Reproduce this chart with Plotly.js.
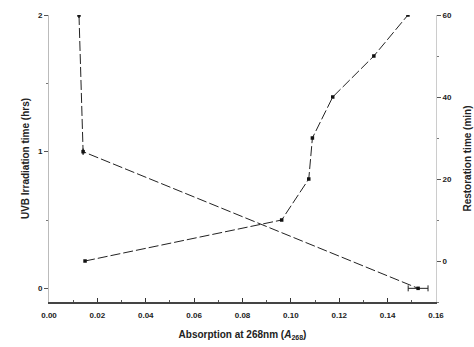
<!DOCTYPE html>
<html>
<head>
<meta charset="utf-8">
<script src="https://cdn.plot.ly/plotly-3.0.1.min.js"></script>
<style>html,body{margin:0;padding:0;background:#fff;}#chart{width:474px;height:347px;}</style>
</head>
<body>
<div id="chart"></div>
<script>
// Series 1: UVB irradiation time (hrs) vs absorption
const uvbAbs = [0.0124, 0.0141, 0.1526];
const uvbHrs = [2, 1, 0];
const uvbErr = [0, 0, 0.0041];
// Series 2: time (min) vs absorption
const timeAbs = [0.0149, 0.0962, 0.1074, 0.1089, 0.1173, 0.1343, 0.1484];
const timeMin = [0, 10, 20, 30, 40, 50, 60];

const xTicks = [0, 0.02, 0.04, 0.06, 0.08, 0.10, 0.12, 0.14, 0.16];
const xTickText = ['0.00','0.02','0.04','0.06','0.08','0.10','0.12','0.14','0.16'];
const y1Ticks = [0, 1, 2];
const y2Ticks = [0, 20, 40, 60];

const font = {family: 'Liberation Sans, Arial, sans-serif', size: 8, color: '#222', weight: 'bold'};
const titleFont = {family: 'Liberation Sans, Arial, sans-serif', size: 10, color: '#222', weight: 'bold'};

const traces = [
  {
    x: uvbAbs, y: uvbHrs, type: 'scatter', mode: 'lines+markers',
    line: {color: '#222', width: 1, dash: '10px,3px'},
    marker: {symbol: 'square', size: 3.5, color: '#111'},
    error_x: {type: 'data', array: uvbErr, visible: true, color: '#222', thickness: 1, width: 3},
    yaxis: 'y', showlegend: false
  },
  {
    x: timeAbs, y: timeMin, type: 'scatter', mode: 'lines+markers',
    line: {color: '#222', width: 1, dash: '10px,3px'},
    marker: {symbol: 'square', size: 3.5, color: '#111'},
    yaxis: 'y2', showlegend: false
  }
];

const layout = {
  width: 474, height: 347,
  margin: {l: 49, r: 38, t: 15, b: 45},
  paper_bgcolor: '#fff', plot_bgcolor: '#fff',
  font: font,
  xaxis: {
    range: [0, 0.16], tickvals: xTicks, ticktext: xTickText, color: '#222',
    ticks: 'inside', ticklen: 4, tickcolor: '#333', tickwidth: 1,
    minor: {dtick: 0.01, ticks: 'inside', ticklen: 2, tickcolor: '#555'},
    showline: true, linecolor: '#444', linewidth: 1.5, mirror: false,
    showgrid: false, zeroline: false, tickfont: font, ticklabelstandoff: 5,
    title: {text: 'Absorption at 268nm (<i>A</i><sub>268</sub>)', font: titleFont, standoff: 12}
  },
  yaxis: {
    range: [-0.1, 2.0], tickvals: y1Ticks, color: '#222',
    ticks: 'outside', ticklen: 4, tickcolor: '#555', tickwidth: 1,
    minor: {dtick: 0.5, ticks: 'outside', ticklen: 2, tickcolor: '#777'},
    showline: true, linecolor: '#bbb', linewidth: 1,
    showgrid: false, zeroline: false, tickfont: font,
    title: {text: 'UVB Irradiation time (hrs)', font: titleFont, standoff: 6}
  },
  yaxis2: {
    range: [-10, 60], tickvals: y2Ticks, overlaying: 'y', side: 'right', color: '#222',
    ticks: 'outside', ticklen: 4, tickcolor: '#555', tickwidth: 1,
    minor: {dtick: 10, ticks: 'outside', ticklen: 2, tickcolor: '#777'},
    showline: true, linecolor: '#ccc', linewidth: 1,
    showgrid: false, zeroline: false, tickfont: font,
    title: {text: 'Restoration time (min)', font: titleFont, standoff: 12}
  }
};

Plotly.newPlot('chart', traces, layout, {displayModeBar: false, staticPlot: true});
</script>
</body>
</html>
